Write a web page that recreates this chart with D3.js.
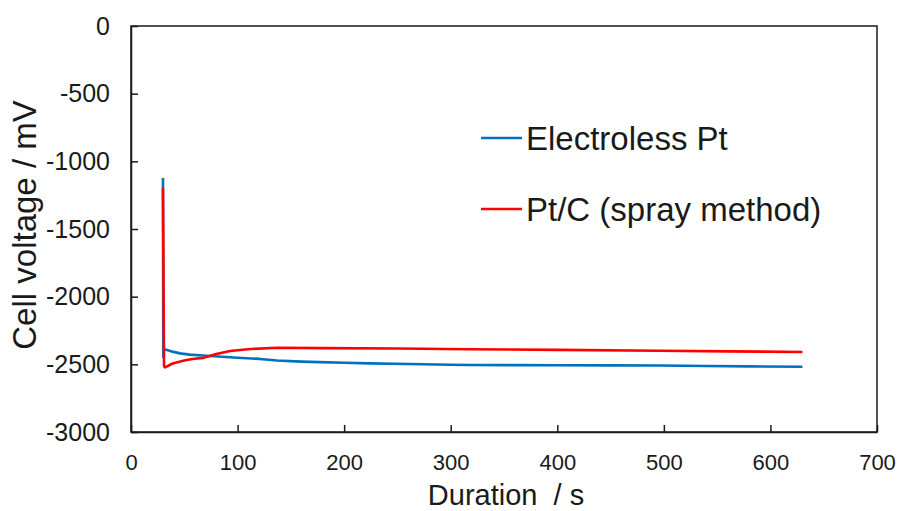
<!DOCTYPE html>
<html>
<head>
<meta charset="utf-8">
<script src="https://cdn.jsdelivr.net/npm/d3@7"></script>
<style>
  html, body { margin: 0; padding: 0; background: #fff; }
  svg { display: block; font-family: "Liberation Sans", Arial, sans-serif; }
</style>
</head>
<body>
<svg id="chart" width="900" height="511"></svg>
<script>
// Cell voltage during the durability run (time in s, voltage in mV)
const electrolessTime = [30, 30.3, 31, 33, 40, 46, 55, 71, 96, 121, 137, 160, 177, 200, 224, 260, 300, 318, 360, 400, 450, 496, 540, 580, 630];
const electrolessVolt = [-1123, -2446, -2388, -2392, -2408, -2419, -2428, -2437, -2449, -2460, -2472, -2480, -2484, -2488, -2493, -2498, -2503, -2505, -2506, -2507, -2508, -2509, -2512, -2515, -2518];

const sprayTime = [30, 31, 32, 39, 49, 56, 62, 68, 80, 93, 112, 137, 180, 250, 318, 400, 496, 560, 630];
const sprayVolt = [-1197, -2515, -2523, -2494, -2474, -2462, -2457, -2452, -2424, -2402, -2387, -2378, -2380, -2383, -2388, -2393, -2400, -2404, -2409];

const xTicks = [0, 100, 200, 300, 400, 500, 600, 700];
const yTicks = [0, -500, -1000, -1500, -2000, -2500, -3000];

const seriesNames = ["Electroless Pt", "Pt/C (spray method)"];
const seriesColors = ["#0070C0", "#FF0000"];

const series = [
  { name: seriesNames[0], color: seriesColors[0], pts: electrolessTime.map((t, i) => [t, electrolessVolt[i]]) },
  { name: seriesNames[1], color: seriesColors[1], pts: sprayTime.map((t, i) => [t, sprayVolt[i]]) }
];

const svg = d3.select("#chart");
const plot = { left: 131, right: 877, top: 26, bottom: 432 };

const x = d3.scaleLinear().domain([0, 700]).range([plot.left, plot.right]);
const y = d3.scaleLinear().domain([-3000, 0]).range([plot.bottom, plot.top]);

// Data lines
const line = d3.line().x(d => x(d[0])).y(d => y(d[1]));
svg.append("g").selectAll("path")
  .data(series)
  .join("path")
  .attr("d", d => line(d.pts))
  .attr("fill", "none")
  .attr("stroke", d => d.color)
  .attr("stroke-width", 2.6)
  .attr("stroke-linejoin", "round");

// Frame
svg.append("rect")
  .attr("x", plot.left).attr("y", plot.top)
  .attr("width", plot.right - plot.left).attr("height", plot.bottom - plot.top)
  .attr("fill", "none").attr("stroke", "#1a1a1a").attr("stroke-width", 1.5);

// Axes with inward ticks; plain integer labels with a hyphen minus
const plain = d => String(d);
const xAxis = svg.append("g")
  .attr("transform", `translate(0,${plot.bottom})`)
  .call(d3.axisBottom(x).tickValues(xTicks).tickFormat(plain).tickSizeInner(-7).tickSizeOuter(0).tickPadding(22));
const yAxis = svg.append("g")
  .attr("transform", `translate(${plot.left},0)`)
  .call(d3.axisLeft(y).tickValues(yTicks).tickFormat(plain).tickSizeInner(-7).tickSizeOuter(0).tickPadding(21));

[xAxis, yAxis].forEach(g => {
  g.select(".domain").attr("stroke", "#1a1a1a").attr("stroke-width", 1.5);
  g.selectAll(".tick line").attr("stroke", "#1a1a1a").attr("stroke-width", 1.5);
  g.selectAll(".tick text").attr("fill", "#1a1a1a").attr("font-family", "'Liberation Sans', Arial, sans-serif");
});
xAxis.selectAll(".tick text").attr("font-size", 22).attr("dy", "0.71em");
yAxis.selectAll(".tick text").attr("font-size", 25);

// Axis titles
svg.append("text")
  .attr("x", 506).attr("y", 505)
  .attr("text-anchor", "middle")
  .attr("font-size", 29)
  .attr("fill", "#1a1a1a")
  .style("white-space", "pre")
  .text("Duration  / s");

svg.append("text")
  .attr("transform", "translate(36,225) rotate(-90)")
  .attr("text-anchor", "middle")
  .attr("font-size", 33)
  .attr("fill", "#1a1a1a")
  .text("Cell voltage / mV");

// Legend
const legend = svg.append("g");
const legendY = [138, 209];
series.forEach((s, i) => {
  legend.append("line")
    .attr("x1", 481).attr("x2", 522)
    .attr("y1", legendY[i]).attr("y2", legendY[i])
    .attr("stroke", s.color).attr("stroke-width", 2.6);
  legend.append("text")
    .attr("x", 526).attr("y", legendY[i] + 12)
    .attr("font-size", 33)
    .attr("fill", "#1a1a1a")
    .text(s.name);
});
</script>
</body>
</html>
